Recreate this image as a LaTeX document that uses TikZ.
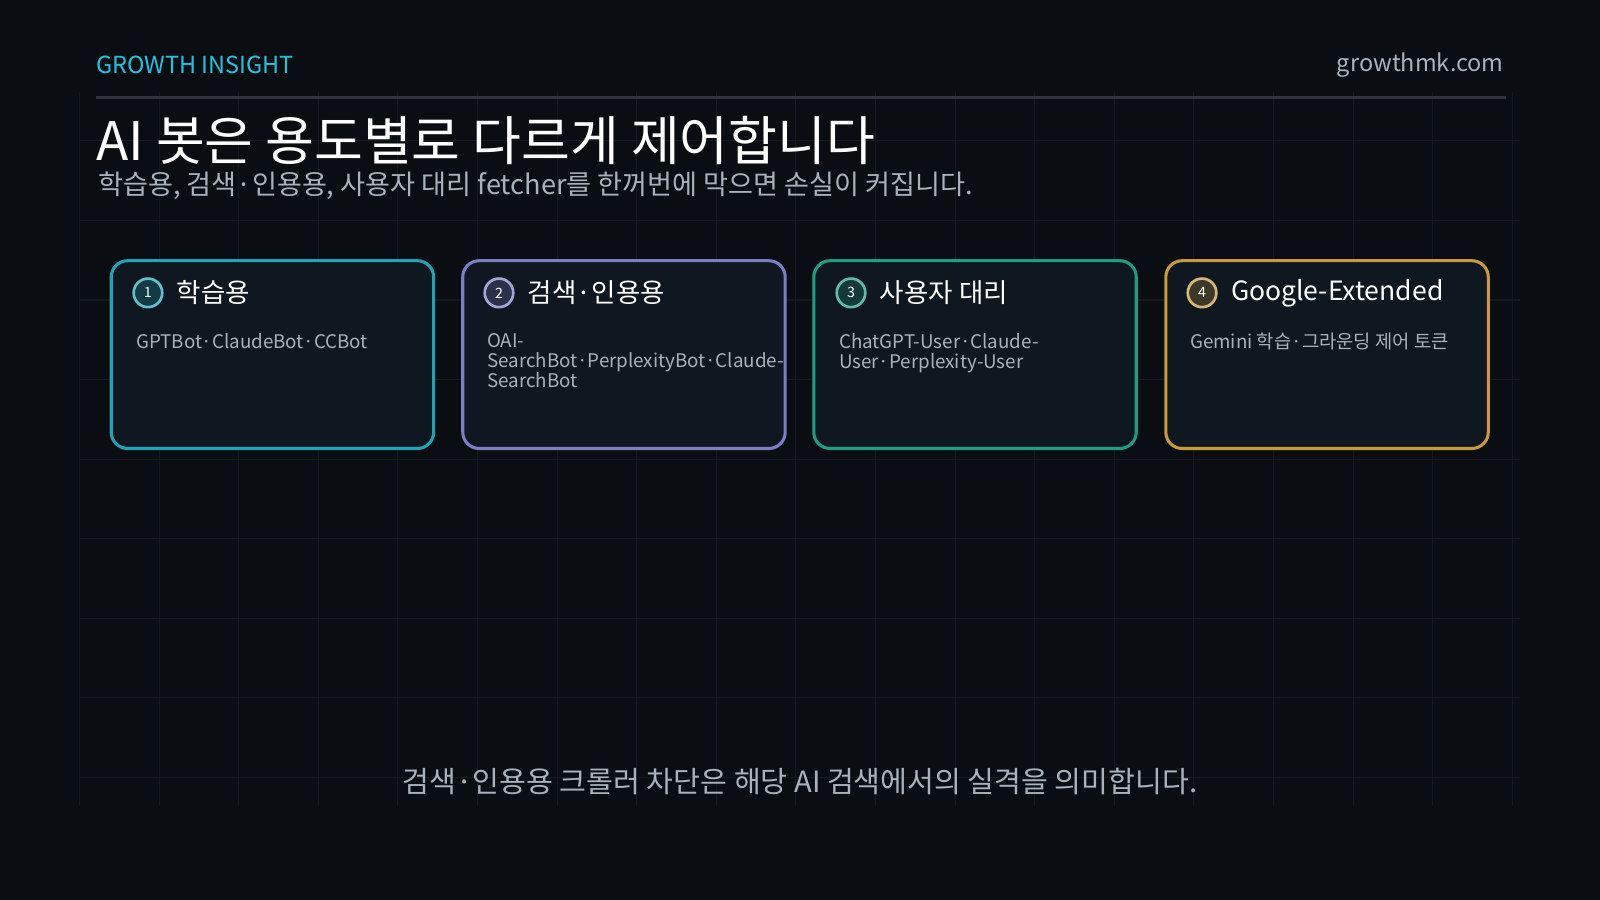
\documentclass[tikz,border=0pt]{standalone}
\usepackage{fontspec}
\setmainfont{Noto Sans CJK KR}
\usetikzlibrary{positioning}
\definecolor{bgdark}{HTML}{0A0E13}
\definecolor{gridc}{HTML}{141A21}
\definecolor{cardbg}{HTML}{0F1820}
\definecolor{cyanc}{HTML}{1FA3B5}
\definecolor{purpc}{HTML}{7B80C6}
\definecolor{greenc}{HTML}{1E9E80}
\definecolor{goldc}{HTML}{C9993C}
\definecolor{subtext}{HTML}{A9B2BC}
\definecolor{headc}{HTML}{22C3DD}
\tikzset{
  card/.style={draw=#1, line width=1.5pt, fill=cardbg, rounded corners=8pt,
    minimum width=158pt, minimum height=92pt, inner sep=0pt},
  badge/.style={circle, draw=#1!70!white, line width=1.3pt, fill=#1!25!cardbg,
    minimum size=14pt, inner sep=0pt, text=white, font=\fontsize{7}{8}\selectfont},
  cardtitle/.style={text=white, anchor=west, font=\fontsize{13}{15}\selectfont},
  cardbody/.style={text=subtext, anchor=north west, align=left,
    font=\fontsize{9.2}{10}\selectfont, inner sep=0pt},
}
\begin{document}
\begin{tikzpicture}[x=0.5pt, y=-0.5pt]
\fill[bgdark] (0,0) rectangle (1568,882);
\useasboundingbox (0,0) rectangle (1568,882);
% faint grid
\foreach \gx in {78,156,...,1490} \draw[gridc, line width=0.5pt] (\gx,90) -- (\gx,790);
\foreach \gy in {138,216,...,790} \draw[gridc, line width=0.5pt] (78,\gy) -- (1490,\gy);
% header
\node (brand) [anchor=west, text=headc, font=\fontsize{11.5}{13}\selectfont, inner sep=0pt] at (94,64) {GROWTH INSIGHT};
\node (site) [anchor=east, text=subtext, font=\fontsize{11.5}{13}\selectfont, inner sep=0pt] at (1474,64) {growthmk.com};
\draw[gridc!75!gray, line width=1.5pt] (94,96) -- (1476,96);
\node (title) [anchor=west, text=white, font=\fontsize{26}{30}\selectfont, inner sep=0pt] at (94,138) {AI 봇은 용도별로 다르게 제어합니다};
\node (sub) [anchor=west, text=subtext, font=\fontsize{13.3}{15}\selectfont, inner sep=0pt] at (96,182) {학습용, 검색·인용용, 사용자 대리 fetcher를 한꺼번에 막으면 손실이 커집니다.};
% cards
\node (c1) [card=cyanc] at (267,347.5) {};
\node (c2) [card=purpc] at (611.5,347.5) {};
\node (c3) [card=greenc] at (955.5,347.5) {};
\node (c4) [card=goldc] at (1300.5,347.5) {};
\node (b1) [badge=cyanc] at (145,287) {1};
\node (b2) [badge=purpc] at (489,287) {2};
\node (b3) [badge=greenc] at (834,287) {3};
\node (b4) [badge=goldc] at (1178,287) {4};
\node (t1) [cardtitle, right=3pt of b1] {학습용};
\node (t2) [cardtitle, right=3pt of b2] {검색·인용용};
\node (t3) [cardtitle, right=3pt of b3] {사용자 대리};
\node (t4) [cardtitle, right=3pt of b4] {Google-Extended};
\node (d1) [cardbody] at (133,326) {GPTBot·ClaudeBot·CCBot};
\node (d2) [cardbody] at (477,326) {OAI-\\SearchBot·PerplexityBot·Claude-\\SearchBot};
\node (d3) [cardbody] at (822,326) {ChatGPT-User·Claude-\\User·Perplexity-User};
\node (d4) [cardbody] at (1166,326) {Gemini 학습·그라운딩 제어 토큰};
% footer
\node (foot) [text=subtext, font=\fontsize{14.3}{16}\selectfont, inner sep=0pt] at (784,766) {검색·인용용 크롤러 차단은 해당 AI 검색에서의 실격을 의미합니다.};
\end{tikzpicture}
\end{document}
